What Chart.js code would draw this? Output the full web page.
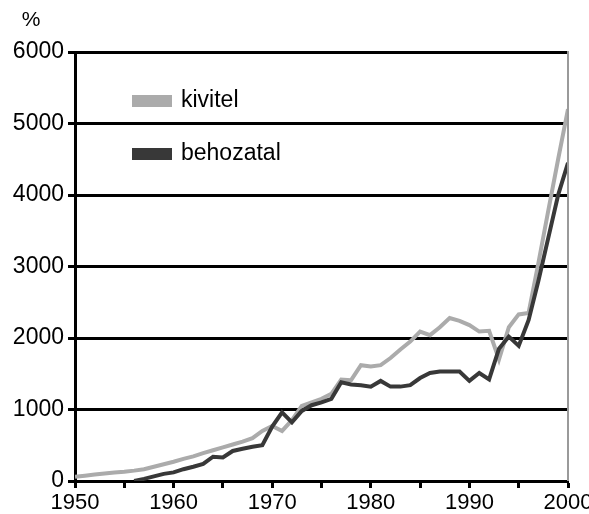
<!DOCTYPE html>
<html>
<head>
<meta charset="utf-8">
<script src="https://cdn.jsdelivr.net/npm/chart.js@4/dist/chart.umd.min.js"></script>
<style>
  html, body { margin: 0; padding: 0; background: #fff; }
  #wrap { width: 589px; height: 514px; position: relative; }
</style>
</head>
<body>
<div id="wrap"><canvas id="c" width="589" height="514"></canvas></div>
<script>
// ---- data ----
const years = [1950,1951,1952,1953,1954,1955,1956,1957,1958,1959,
               1960,1961,1962,1963,1964,1965,1966,1967,1968,1969,
               1970,1971,1972,1973,1974,1975,1976,1977,1978,1979,
               1980,1981,1982,1983,1984,1985,1986,1987,1988,1989,
               1990,1991,1992,1993,1994,1995,1996,1997,1998,1999,
               2000];
const kivitel = [60,75,90,105,120,130,145,165,200,235,
                 270,310,345,390,430,470,510,550,600,700,
                 770,700,850,1050,1100,1150,1220,1420,1410,1620,
                 1600,1620,1720,1840,1950,2090,2040,2150,2280,2240,
                 2180,2090,2100,1700,2150,2330,2350,3050,3780,4500,
                 5200];
const behozatal = [null,null,null,null,null,null,0,30,65,100,
                   120,165,200,240,340,330,420,450,480,500,
                   760,960,820,980,1060,1100,1150,1380,1350,1340,
                   1320,1400,1320,1320,1340,1440,1510,1530,1530,1530,
                   1400,1510,1420,1850,2020,1890,2250,2800,3400,4000,
                   4450];
const seriesLabels = ['kivitel', 'behozatal'];
const yTicks = [0,1000,2000,3000,4000,5000,6000];
const xLabelYears = [1950,1960,1970,1980,1990,2000];
const unitLabel = '%';

const LIGHT = '#ababab';
const DARK = '#383838';
const FONT = '"Liberation Sans", Arial, sans-serif';

const pts = arr => years.map((y, i) => ({x: y, y: arr[i]}));

const decor = {
  id: 'decor',
  afterDraw(chart) {
    const ctx = chart.ctx;
    const a = chart.chartArea;
    ctx.save();
    // right thin gray border
    ctx.strokeStyle = '#9a9a9a';
    ctx.lineWidth = 2;
    ctx.beginPath();
    ctx.moveTo(a.right, a.top - 1);
    ctx.lineTo(a.right, a.bottom);
    ctx.stroke();
    // unit label
    ctx.fillStyle = '#000';
    ctx.font = '21px ' + FONT;
    ctx.textAlign = 'center';
    ctx.textBaseline = 'middle';
    ctx.fillText(unitLabel, 31, 20);
    // legend
    const items = chart.data.datasets.map(d => ({label: d.label, color: d.borderColor}));
    const order = seriesLabels.map(l => items.find(it => it.label === l));
    const rows = [101, 154];
    order.forEach((it, i) => {
      ctx.fillStyle = it.color;
      ctx.fillRect(132, rows[i] - 6, 40, 12);
      ctx.fillStyle = '#000';
      ctx.font = '23px ' + FONT;
      ctx.textAlign = 'left';
      ctx.textBaseline = 'middle';
      ctx.fillText(it.label, 181, rows[i]);
    });
    ctx.restore();
  }
};

new Chart(document.getElementById('c'), {
  type: 'line',
  data: {
    datasets: [
      { label: seriesLabels[1], data: pts(behozatal), borderColor: DARK, backgroundColor: DARK,
        borderWidth: 4, pointRadius: 0, tension: 0, fill: false, spanGaps: false },
      { label: seriesLabels[0], data: pts(kivitel), borderColor: LIGHT, backgroundColor: LIGHT,
        borderWidth: 4, pointRadius: 0, tension: 0, fill: false }
    ]
  },
  options: {
    responsive: false,
    animation: false,
    devicePixelRatio: 1,
    layout: { padding: { left: 0, top: 52, right: 21, bottom: 0 } },
    plugins: { legend: { display: false }, tooltip: { enabled: false } },
    scales: {
      x: {
        type: 'linear',
        min: years[0], max: years[years.length - 1],
        afterFit: s => { s.height = 33; s.paddingRight = 0; s.paddingLeft = 0; },
        afterBuildTicks: s => {
          const t = [];
          for (let v = years[0]; v <= years[years.length - 1]; v += 5) t.push({value: v});
          s.ticks = t;
        },
        border: { display: true, color: '#000', width: 3 },
        grid: { drawOnChartArea: false, drawTicks: true, tickLength: 7, tickColor: '#000', tickWidth: 3 },
        ticks: {
          autoSkip: false, maxRotation: 0, padding: 2, color: '#000',
          font: { family: FONT, size: 22 },
          callback: v => xLabelYears.includes(v) ? String(v) : ''
        }
      },
      y: {
        min: yTicks[0], max: yTicks[yTicks.length - 1],
        afterFit: s => { s.width = 75; },
        afterBuildTicks: s => { s.ticks = yTicks.map(v => ({value: v})); },
        border: { display: true, color: '#000', width: 3 },
        grid: { color: '#000', lineWidth: 3, drawTicks: true, tickLength: 7, tickColor: '#000', tickWidth: 3 },
        ticks: { padding: 4, color: '#000', font: { family: FONT, size: 23 },
                 callback: v => String(v) }
      }
    }
  },
  plugins: [decor]
});
</script>
</body>
</html>
